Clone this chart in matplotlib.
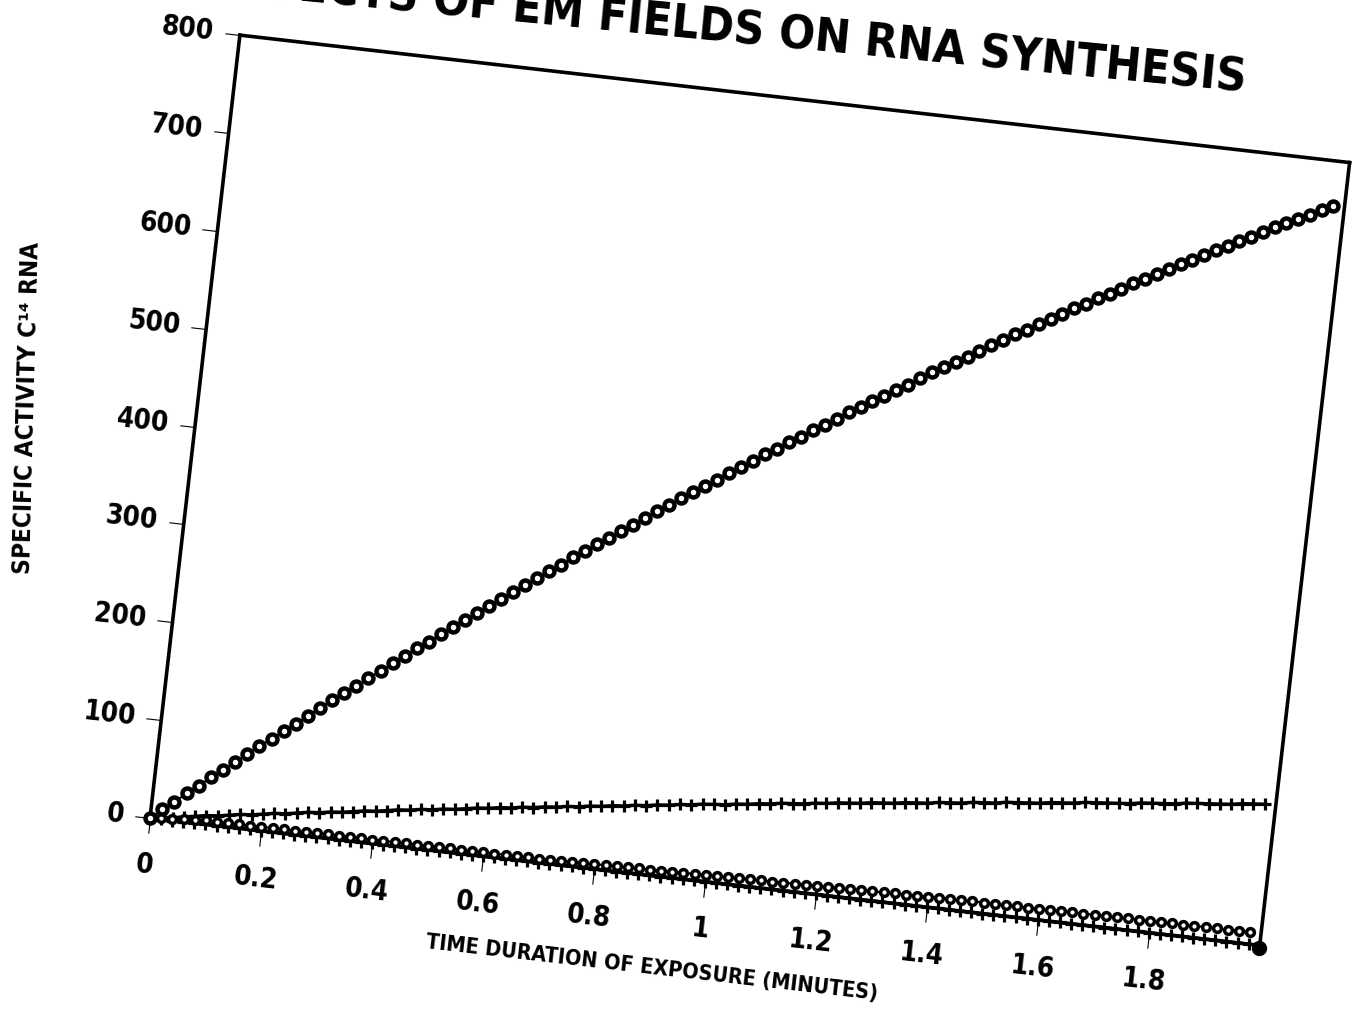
import math
import matplotlib
matplotlib.use("Agg")
import matplotlib.pyplot as plt
from matplotlib import font_manager as fm
from matplotlib.transforms import Affine2D
import mpl_toolkits.axisartist.floating_axes as floating_axes
from mpl_toolkits.axisartist.grid_finder import FixedLocator, DictFormatter

# ---------------- data ----------------
time_min = [0.00, 0.02, 0.04, 0.06, 0.08, 0.10, 0.12, 0.14, 0.16, 0.18,
            0.20, 0.22, 0.24, 0.26, 0.28, 0.30, 0.32, 0.34, 0.36, 0.38,
            0.40, 0.42, 0.44, 0.46, 0.48, 0.50, 0.52, 0.54, 0.56, 0.58,
            0.60, 0.62, 0.64, 0.66, 0.68, 0.70, 0.72, 0.74, 0.76, 0.78,
            0.80, 0.82, 0.84, 0.86, 0.88, 0.90, 0.92, 0.94, 0.96, 0.98,
            1.00, 1.02, 1.04, 1.06, 1.08, 1.10, 1.12, 1.14, 1.16, 1.18,
            1.20, 1.22, 1.24, 1.26, 1.28, 1.30, 1.32, 1.34, 1.36, 1.38,
            1.40, 1.42, 1.44, 1.46, 1.48, 1.50, 1.52, 1.54, 1.56, 1.58,
            1.60, 1.62, 1.64, 1.66, 1.68, 1.70, 1.72, 1.74, 1.76, 1.78,
            1.80, 1.82, 1.84, 1.86, 1.88, 1.90, 1.92, 1.94, 1.96, 1.98]

# open circles, rising steeply
activity_high = [0, 10, 19, 29, 38, 48, 57, 66, 76, 85,
                 94, 103, 112, 121, 131, 140, 149, 157, 166, 175,
                 184, 193, 202, 210, 219, 228, 236, 245, 253, 262,
                 270, 278, 287, 295, 303, 312, 320, 328, 336, 344,
                 352, 360, 368, 376, 384, 392, 399, 407, 415, 422,
                 430, 438, 445, 453, 460, 468, 475, 482, 490, 497,
                 504, 511, 518, 525, 533, 540, 547, 553, 560, 567,
                 574, 581, 588, 594, 601, 608, 614, 621, 627, 634,
                 640, 646, 653, 659, 665, 672, 678, 684, 690, 696,
                 702, 708, 714, 720, 726, 732, 737, 743, 749, 754]

# plus markers, slowly rising
activity_mid = [0, 2, 3, 5, 7, 9, 10, 12, 14, 15,
                17, 19, 20, 22, 24, 25, 27, 28, 30, 32,
                33, 35, 37, 38, 40, 41, 43, 44, 46, 48,
                49, 51, 52, 54, 55, 57, 58, 60, 61, 63,
                64, 66, 67, 69, 70, 72, 73, 75, 76, 78,
                79, 80, 82, 83, 85, 86, 88, 89, 90, 92,
                93, 95, 96, 97, 99, 100, 101, 103, 104, 105,
                107, 108, 109, 111, 112, 113, 115, 116, 117, 118,
                120, 121, 122, 124, 125, 126, 127, 128, 130, 131,
                132, 133, 135, 136, 137, 138, 139, 141, 142, 143]

# small open circles just above the baseline
activity_low = [0, 1, 2, 3, 3, 4, 4, 4, 4, 4,
                4, 4, 4, 4, 4, 4, 4, 4, 4, 4,
                4, 4, 4, 4, 4, 4, 4, 4, 4, 4,
                4, 4, 4, 4, 4, 4, 4.2, 4.4, 4.6, 4.8,
                5.0, 5.1, 5.3, 5.5, 5.7, 5.9, 6.1, 6.3, 6.5, 6.7,
                6.9, 7.0, 7.2, 7.4, 7.6, 7.8, 8.0, 8.2, 8.4, 8.6,
                8.8, 8.9, 9.1, 9.3, 9.5, 9.7, 9.9, 10.1, 10.3, 10.5,
                10.7, 10.8, 11.0, 11.1, 11.1, 11.2, 11.2, 11.3, 11.3, 11.4,
                11.4, 11.5, 11.5, 11.6, 11.7, 11.7, 11.8, 11.8, 11.9, 11.9,
                12.0, 12.0, 12.1, 12.1, 12.2, 12.2, 12.3, 12.3, 12.4, 12.5]

# plus markers lying on the baseline
activity_base = [0, 0, 0, 0, 0, 0, 0, 0, 0, 0,
                 0, 0, 0, 0, 0, 0, 0, 0, 0, 0,
                 0, 0, 0, 0, 0, 0, 0, 0, 0, 0,
                 0, 0, 0, 0, 0, 0, 0, 0, 0, 0,
                 0, 0, 0, 0, 0, 0, 0, 0, 0, 0,
                 0, 0, 0, 0, 0, 0, 0, 0, 0, 0,
                 0, 0, 0, 0, 0, 0, 0, 0, 0, 0,
                 0, 0, 0, 0, 0, 0, 0, 0, 0, 0,
                 0, 0, 0, 0, 0, 0, 0, 0, 0, 0,
                 0, 0, 0, 0, 0, 0, 0, 0, 0, 0]

end_x = [2.0]
end_y = [-3]

x_ticks = [0, 0.2, 0.4, 0.6, 0.8, 1.0, 1.2, 1.4, 1.6, 1.8]
x_tick_labels = ["0", "0.2", "0.4", "0.6", "0.8", "1", "1.2", "1.4", "1.6", "1.8"]
y_ticks = [0, 100, 200, 300, 400, 500, 600, 700, 800]
y_tick_labels = ["0", "100", "200", "300", "400", "500", "600", "700", "800"]

title_text = "EFFECTS OF EM FIELDS ON RNA SYNTHESIS"
x_label = "TIME DURATION OF EXPOSURE (MINUTES)"
y_label = "SPECIFIC ACTIVITY C\u00b9\u2074 RNA"


# ---------------- fonts ----------------
def pick_font():
    """Prefer a narrow/condensed bold sans; fall back to Liberation Sans bold."""
    prefs = ["liberation sans narrow", "dejavu sans condensed", "noto sans condensed",
             "roboto condensed", "open sans condensed"]
    found = {}
    for f in fm.fontManager.ttflist:
        low = (f.name + " " + f.fname).lower()
        fn = f.fname.lower()
        if "italic" in fn or "oblique" in fn:
            continue
        bold = (f.weight in ("bold", 700, "heavy", 800)) or ("bold" in fn)
        if not bold or "semibold" in fn or "extrabold" in fn:
            continue
        narrow = ("narrow" in low or "condensed" in low
                  or f.stretch in ("condensed", "semi-condensed", "extra-condensed"))
        if narrow:
            for p in prefs:
                key = p.split()[0]
                if key in low and p not in found:
                    found[p] = f.fname
    for p in prefs:
        if p in found:
            return fm.FontProperties(fname=found[p]), True
    return fm.FontProperties(family=["Liberation Sans", "DejaVu Sans"], weight="bold"), False


base_fp, is_narrow = pick_font()
SCALE = 1.0 if is_narrow else 0.86


def fp(size):
    p = base_fp.copy()
    p.set_size(size * SCALE)
    return p


# ---------------- figure ----------------
FW, FH, DPI = 1363, 1011, 100
fig = plt.figure(figsize=(FW / DPI, FH / DPI), dpi=DPI)

ANGLE = -6.55                 # scan tilt
X0, X1, Y0, Y1 = 0.0, 2.0, 0.0, 800.0
PX_W, PX_H = 1117.0, 788.0    # frame size in pixels
sx = PX_W / (X1 - X0)
sy = PX_H / (Y1 - Y0)
tr = Affine2D().scale(sx, sy).rotate_deg(ANGLE)

grid_helper = floating_axes.GridHelperCurveLinear(
    tr, extremes=(X0, X1, Y0, Y1),
    grid_locator1=FixedLocator(x_ticks),
    tick_formatter1=DictFormatter(dict(zip(x_ticks, x_tick_labels))),
    grid_locator2=FixedLocator(y_ticks),
    tick_formatter2=DictFormatter(dict(zip(y_ticks, y_tick_labels))))

th = math.radians(ANGLE)
corners = [(0, 0), (PX_W, 0), (0, PX_H), (PX_W, PX_H)]
rc = [(cx * math.cos(th) - cy * math.sin(th), cx * math.sin(th) + cy * math.cos(th))
      for cx, cy in corners]
bx0 = min(c[0] for c in rc); bx1 = max(c[0] for c in rc)
by0 = min(c[1] for c in rc); by1 = max(c[1] for c in rc)
bw, bh = bx1 - bx0, by1 - by0
OX, OY = 150.0, 818.0          # origin in image pixels (y down)
left_px = OX + bx0
bottom_px = (FH - OY) + by0
PAD = 1.02
cxp = left_px + bw / 2
cyp = bottom_px + bh / 2
aw, ah = bw * PAD, bh * PAD
rect = [(cxp - aw / 2) / FW, (cyp - ah / 2) / FH, aw / FW, ah / FH]

ax = fig.add_axes(rect, axes_class=floating_axes.FloatingAxes, grid_helper=grid_helper)
aux = ax.get_aux_axes(tr)

for name in ["left", "bottom", "top", "right"]:
    ax.axis[name].line.set_linewidth(2.6)
for name in ["top", "right"]:
    ax.axis[name].toggle(ticks=False, ticklabels=False, label=False)

for name in ["left", "bottom"]:
    a = ax.axis[name]
    a.major_ticks.set_tick_out(True)
    a.major_ticks.set_ticksize(11)
    a.major_ticks.set_linewidth(2.2)
    a.minor_ticks.set_visible(False)
    a.major_ticklabels.set_fontproperties(fp(20))
    a.label.set_visible(False)
ax.axis["left"].major_ticklabels.set_pad(8)
ax.axis["bottom"].major_ticklabels.set_pad(14)

aux.plot(time_min, activity_base, color="black", lw=2.4, marker="+", ms=9,
         mew=2.3, clip_on=False, zorder=3)
aux.plot(time_min, activity_low, color="black", lw=1.5, marker="o", ms=5.6,
         mew=2.5, mfc="white", mec="black", clip_on=False, zorder=4)
aux.plot(time_min, activity_mid, color="black", lw=2.4, marker="+", ms=9,
         mew=2.3, clip_on=False, zorder=3)
aux.plot(time_min, activity_high, color="black", lw=1.5, marker="o", ms=7.2,
         mew=3.2, mfc="white", mec="black", clip_on=False, zorder=4)
aux.plot(end_x, end_y, color="black", lw=0, marker="o", ms=10, clip_on=False, zorder=5)

# texts
fig.text(1245 / FW, 1 - 92 / FH, title_text, rotation=-5.5, rotation_mode="anchor",
         ha="right", va="baseline", fontproperties=fp(34))
fig.text(652 / FW, 1 - 968 / FH, x_label, rotation=ANGLE, rotation_mode="anchor",
         ha="center", va="center", fontproperties=fp(15.5))
fig.text(27 / FW, 1 - 408 / FH, y_label, rotation=88.5, rotation_mode="anchor",
         ha="center", va="center", fontproperties=fp(17.5))

fig.savefig("out.png", dpi=DPI, facecolor="white")
